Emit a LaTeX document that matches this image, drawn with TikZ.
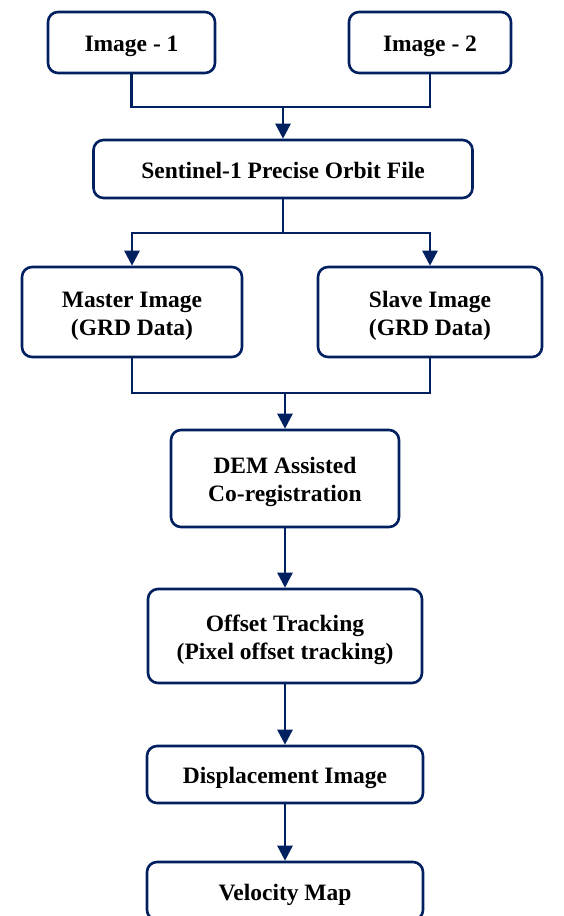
\documentclass[tikz,border=0pt]{standalone}
\usepackage{fontspec}
\setmainfont{Liberation Serif}
\usetikzlibrary{arrows.meta}
\definecolor{flowblue}{RGB}{0,32,96}
\tikzset{
  procbox/.style={draw=flowblue, line width=2.6pt, rounded corners=10pt, fill=white,
    align=center, inner sep=0pt, font=\fontsize{23.5}{28}\selectfont\bfseries},
  oneline/.style={text height=24pt, text depth=6pt},
  twoline/.style={text height=52pt},
  flowline/.style={draw=flowblue, line width=2.5pt},
  flowarrow/.style={flowline, -{Triangle[length=15pt,width=15pt]}}
}
\begin{document}
\begin{tikzpicture}[x=1pt,y=-1pt]
		\useasboundingbox (0,0) rectangle (564,916);
		\node (img1) at (131.5,42.5) [procbox, oneline, minimum width=167pt, minimum height=61pt] {Image - 1};
		\node (img2) at (430,42.5) [procbox, oneline, minimum width=162pt, minimum height=61pt] {Image - 2};
		\node (orbit) at (283,169) [procbox, oneline, minimum width=379pt, minimum height=58pt] {Sentinel-1 Precise Orbit File};
		
		\node (master) at (132,312) [procbox, twoline, minimum width=220pt, minimum height=90pt] {Master Image\\(GRD Data)};
		\node (slave) at (430,312) [procbox, twoline, minimum width=224pt, minimum height=90pt] {Slave Image\\(GRD Data)};
		
		\node (coreg) at (285,478.5) [procbox, twoline, minimum width=228pt, minimum height=97pt] {DEM Assisted\\Co-registration};
		\node (offset) at (285,636) [procbox, twoline, minimum width=274pt, minimum height=94pt] {Offset Tracking\\(Pixel offset tracking)};
		\node (disp) at (285,774.5) [procbox, oneline, minimum width=276pt, minimum height=57pt] {Displacement Image};
		\node (velo) at (285,891) [procbox, oneline, minimum width=276pt, minimum height=58pt] {Velocity Map};
		
		\coordinate (j1) at (283,107);
		\coordinate (j2) at (283,233);
		\coordinate (j3) at (285,393);
		
		\draw [flowline] (img1.south) |- (j1) -| (img2.south);
		\draw [flowarrow] (j1) -- (orbit.north);
		\draw [flowline] (orbit.south) -- (j2);
		\draw [flowarrow, {Triangle[length=15pt,width=15pt]}-{Triangle[length=15pt,width=15pt]}] (master.north) |- (j2) -| (slave.north);
		\draw [flowline] (master.south) |- (j3) -| (slave.south);
		\draw [flowarrow] (j3) -- (coreg.north);
		\draw [flowarrow] (coreg) -- (offset);
		\draw [flowarrow] (offset) -- (disp);
		\draw [flowarrow] (disp) -- (velo);
		\end{tikzpicture}
\end{document}
